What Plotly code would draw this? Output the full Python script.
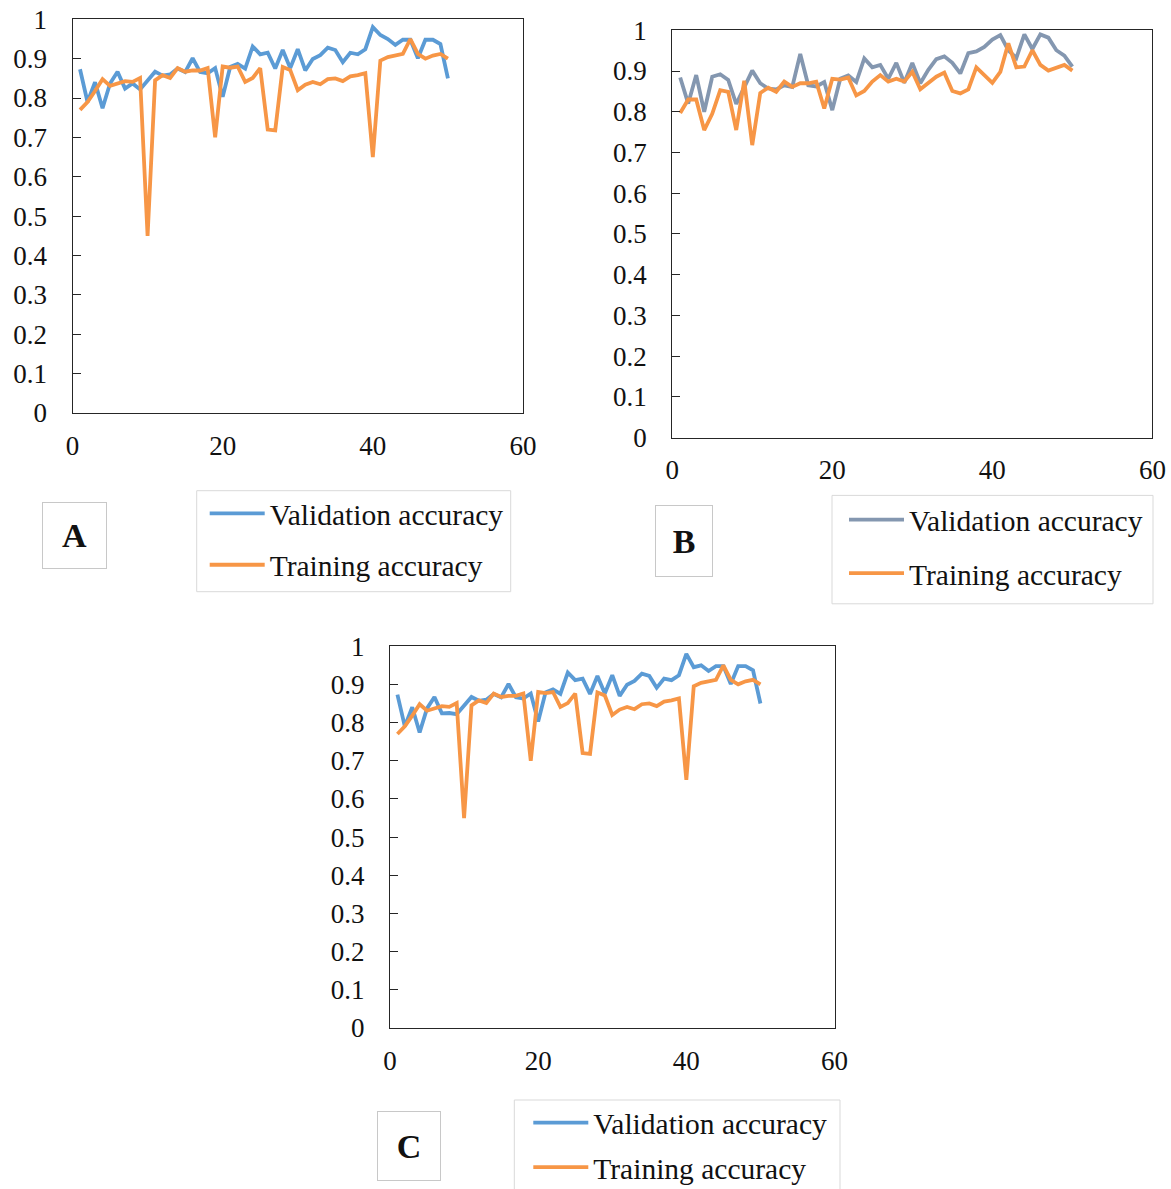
import plotly.graph_objects as go

# ---------------- data ----------------
epochs = list(range(1, 51))

val_a = [0.873, 0.79, 0.84, 0.774, 0.837, 0.867, 0.824, 0.837, 0.822, 0.845,
         0.867, 0.857, 0.86, 0.875, 0.866, 0.901, 0.866, 0.863, 0.876, 0.803,
         0.879, 0.887, 0.875, 0.931, 0.911, 0.915, 0.875, 0.922, 0.876, 0.924,
         0.87, 0.899, 0.909, 0.928, 0.922, 0.891, 0.915, 0.911, 0.924, 0.98,
         0.96, 0.95, 0.935, 0.948, 0.948, 0.901, 0.948, 0.948, 0.937, 0.85]
train_a = [0.77, 0.79, 0.818, 0.848, 0.831, 0.837, 0.843, 0.841, 0.851, 0.45,
           0.845, 0.858, 0.851, 0.876, 0.867, 0.87, 0.87, 0.876, 0.70, 0.88,
           0.877, 0.88, 0.841, 0.851, 0.876, 0.72, 0.718, 0.879, 0.871, 0.82,
           0.834, 0.841, 0.835, 0.848, 0.85, 0.843, 0.855, 0.858, 0.863, 0.65,
           0.895, 0.904, 0.908, 0.912, 0.95, 0.912, 0.90, 0.908, 0.912, 0.90]

val_b = [0.884, 0.82, 0.89, 0.80, 0.886, 0.892, 0.878, 0.819, 0.86, 0.901,
         0.87, 0.857, 0.855, 0.865, 0.861, 0.942, 0.865, 0.862, 0.873, 0.804,
         0.881, 0.889, 0.873, 0.931, 0.909, 0.915, 0.881, 0.92, 0.871, 0.92,
         0.87, 0.903, 0.929, 0.936, 0.92, 0.894, 0.944, 0.948, 0.959, 0.977,
         0.988, 0.951, 0.932, 0.99, 0.954, 0.99, 0.982, 0.951, 0.938, 0.911]
train_b = [0.797, 0.83, 0.83, 0.755, 0.795, 0.853, 0.849, 0.755, 0.876, 0.718,
           0.846, 0.859, 0.849, 0.874, 0.861, 0.87, 0.87, 0.874, 0.808, 0.881,
           0.879, 0.884, 0.84, 0.851, 0.874, 0.89, 0.874, 0.881, 0.874, 0.898,
           0.855, 0.87, 0.886, 0.896, 0.851, 0.845, 0.855, 0.909, 0.89, 0.871,
           0.898, 0.968, 0.909, 0.911, 0.951, 0.915, 0.901, 0.909, 0.915, 0.901]

val_c = [0.873, 0.79, 0.84, 0.774, 0.837, 0.867, 0.824, 0.825, 0.822, 0.845,
         0.867, 0.857, 0.86, 0.875, 0.866, 0.901, 0.866, 0.863, 0.876, 0.803,
         0.879, 0.887, 0.875, 0.931, 0.911, 0.915, 0.875, 0.922, 0.876, 0.924,
         0.87, 0.899, 0.909, 0.928, 0.922, 0.891, 0.915, 0.911, 0.924, 0.98,
         0.945, 0.95, 0.935, 0.948, 0.948, 0.901, 0.948, 0.948, 0.937, 0.85]
train_c = [0.77, 0.79, 0.818, 0.848, 0.831, 0.837, 0.843, 0.841, 0.851, 0.55,
           0.845, 0.858, 0.851, 0.876, 0.867, 0.87, 0.87, 0.876, 0.70, 0.88,
           0.877, 0.88, 0.841, 0.851, 0.876, 0.72, 0.718, 0.879, 0.871, 0.82,
           0.834, 0.841, 0.835, 0.848, 0.85, 0.843, 0.855, 0.858, 0.863, 0.65,
           0.895, 0.904, 0.908, 0.912, 0.95, 0.912, 0.90, 0.908, 0.912, 0.90]

panel_labels = ["A", "B", "C"]
series_names = ["Validation accuracy", "Training accuracy"]
x_ticks = [0, 20, 40, 60]

# ---------------- style ----------------
W, H = 1171, 1189
BLUE = "#5B9BD5"
GREYBLUE = "#8497B0"
ORANGE = "#F79646"
FONT = "Liberation Serif"
FRAME = "#262626"


def dx(a, b):
    return [a / W, b / W]


def dy(top, bottom):
    return [1 - bottom / H, 1 - top / H]


panels = [
    ("x", "y", "legend", (72.5, 523), (19.3, 413), val_a, train_a, BLUE),
    ("x2", "y2", "legend2", (672.2, 1152.4), (30.3, 437.5), val_b, train_b, GREYBLUE),
    ("x3", "y3", "legend3", (390, 834.5), (646.2, 1028), val_c, train_c, BLUE),
]

fig = go.Figure()
layout = dict(
    width=W, height=H,
    margin=dict(l=0, r=0, t=0, b=0, autoexpand=False),
    paper_bgcolor="white", plot_bgcolor="white",
    showlegend=True,
    font=dict(family=FONT, color="#111111"),
)

for i, (xa, ya, lg, xd, yd, v, t, vc) in enumerate(panels):
    fig.add_trace(go.Scatter(x=epochs, y=v, mode="lines", name=series_names[0],
                             line=dict(color=vc, width=3.8), xaxis=xa, yaxis=ya,
                             legend=lg, legendgroup=f"v{i}"))
    fig.add_trace(go.Scatter(x=epochs, y=t, mode="lines", name=series_names[1],
                             line=dict(color=ORANGE, width=3.8), xaxis=xa, yaxis=ya,
                             legend=lg, legendgroup=f"t{i}"))
    xkey = "xaxis" if xa == "x" else "xaxis" + xa[1:]
    ykey = "yaxis" if ya == "y" else "yaxis" + ya[1:]
    layout[xkey] = dict(
        domain=dx(*xd), anchor=ya, range=[0, 60], tickvals=x_ticks,
        showline=True, mirror=True, linecolor=FRAME, linewidth=1.3,
        ticks="", showgrid=False, zeroline=False, fixedrange=True,
        tickfont=dict(family=FONT, size=27, color="#111111"),
        ticklabelstandoff=8, automargin=False,
    )
    layout[ykey] = dict(
        domain=dy(*yd), anchor=xa, range=[0, 1], dtick=0.1, tick0=0,
        showline=True, mirror=True, linecolor=FRAME, linewidth=1.3,
        ticks="inside", ticklen=8, tickcolor=FRAME, tickwidth=1.3,
        showgrid=False, zeroline=False, fixedrange=True,
        tickfont=dict(family=FONT, size=27, color="#111111"),
        ticklabelstandoff=19, automargin=False,
    )

# legend positions (left, top, group gap) and their frames (x0, y0, x1, y1), px
legend_pos = [(204.7, 487.7, 10), (844, 494, 12), (528.3, 1097, 3)]
legend_frames = [(196.7, 490.7, 510.7, 591.7), (832, 495.4, 1153, 603.8),
                 (514.3, 1100, 840, 1200)]
shapes = []
for (lg, (lx, ly, gap), (fx0, fy0, fx1, fy1)) in zip(
        ["legend", "legend2", "legend3"], legend_pos, legend_frames):
    layout[lg] = dict(
        x=lx / W, y=1 - ly / H, xanchor="left", yanchor="top",
        borderwidth=0, bgcolor="rgba(0,0,0,0)",
        font=dict(family=FONT, size=29.5, color="#111111"),
        tracegroupgap=gap, itemwidth=55, traceorder="grouped",
    )
    shapes.append(dict(type="rect", xref="paper", yref="paper",
                       x0=fx0 / W, x1=fx1 / W, y0=1 - fy1 / H, y1=1 - fy0 / H,
                       line=dict(color="#d9d9d9", width=1), layer="below"))
layout["shapes"] = shapes

label_boxes = [(74, 535, 63, 65), (683.7, 540.8, 56, 70), (409, 1146, 62, 68)]
annotations = []
for lab, (cx, cy, w, h) in zip(panel_labels, label_boxes):
    annotations.append(dict(
        text=f"<b>{lab}</b>", x=cx / W, y=1 - cy / H, xref="paper", yref="paper",
        xanchor="center", yanchor="middle", showarrow=False,
        font=dict(family=FONT, size=34, color="#111111"),
        bordercolor="#c8c8c8", borderwidth=1, borderpad=0,
        width=w, height=h, bgcolor="white",
    ))
layout["annotations"] = annotations

fig.update_layout(**layout)
fig.write_html("out.html", post_script="document.body.style.margin='0';",
               config={"displayModeBar": False})
